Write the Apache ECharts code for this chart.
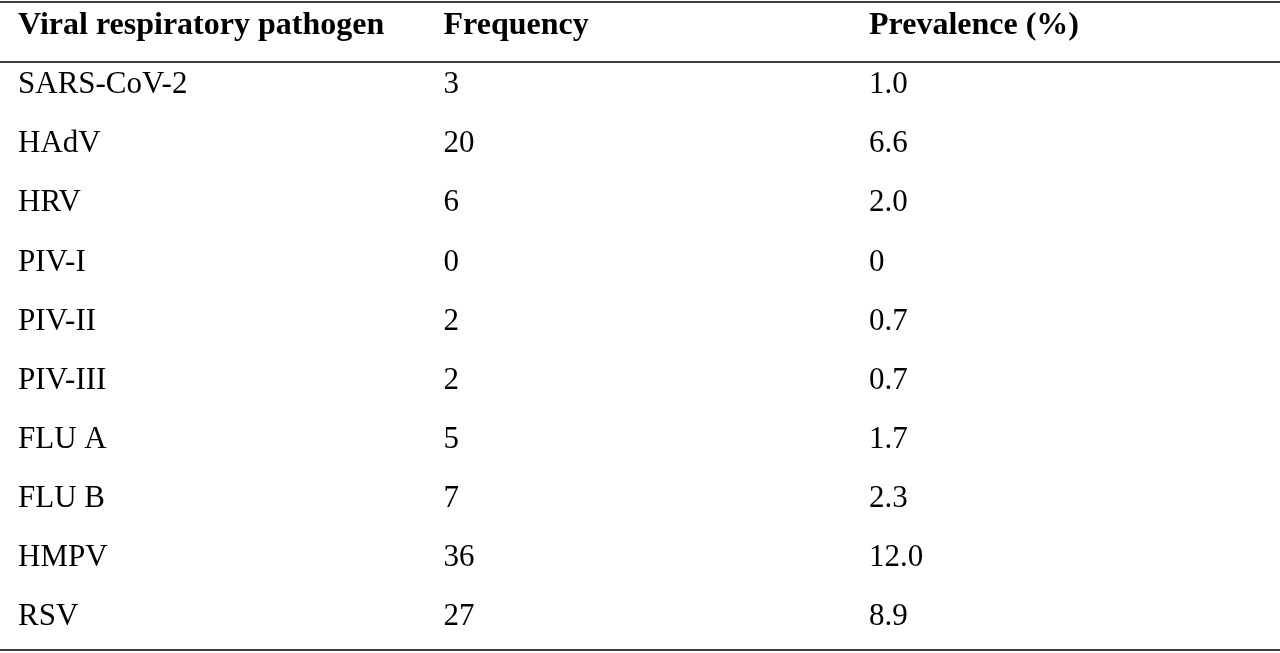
<!DOCTYPE html>
<html><head><meta charset="utf-8">
<script src="https://cdn.jsdelivr.net/npm/echarts@6/dist/echarts.min.js"></script>
<style>html,body{margin:0;padding:0;background:#fff}#c{width:1280px;height:653px}</style>
</head><body><div id="c"></div>
<script>
const headers = ["Viral respiratory pathogen", "Frequency", "Prevalence (%)"];
const pathogens = ["SARS-CoV-2","HAdV","HRV","PIV-I","PIV-II","PIV-III","FLU A","FLU B","HMPV","RSV"];
const frequency = ["3","20","6","0","2","2","5","7","36","27"];
const prevalence = ["1.0","6.6","2.0","0","0.7","0.7","1.7","2.3","12.0","8.9"];

const rows = ["h"].concat(pathogens.map((p,i)=>"r"+i));
const cols = ["c0","c1","c2"];
const headData = headers.map((t,j)=>({value:[cols[j],"h"],label:{formatter:t}}));
const bodyData = [];
pathogens.forEach((p,i)=>{
  [p,frequency[i],prevalence[i]].forEach((t,j)=>bodyData.push({value:[cols[j],"r"+i],label:{formatter:t}}));
});
const font = "'Liberation Serif','Times New Roman',serif";
const chart = echarts.init(document.getElementById('c'));
chart.setOption({
  animation:false,
  grid:{left:18,right:411,top:26,bottom:36},
  xAxis:{type:'category',data:cols,boundaryGap:false,show:false},
  yAxis:{type:'category',data:rows,inverse:true,boundaryGap:false,show:false},
  series:[
    {type:'scatter',symbolSize:0,itemStyle:{opacity:1},data:headData,
     label:{show:true,position:'inside',align:'left',verticalAlign:'middle',fontFamily:font,fontSize:32,fontWeight:'bold',color:'#000'}},
    {type:'scatter',symbolSize:0,itemStyle:{opacity:1},data:bodyData,
     label:{show:true,position:'inside',align:'left',verticalAlign:'middle',fontFamily:font,fontSize:31,color:'#000'}}
  ],
  graphic:[
    {type:'line',shape:{x1:0,y1:2,x2:1280,y2:2},style:{stroke:'#000',lineWidth:1.5}},
    {type:'line',shape:{x1:0,y1:62,x2:1280,y2:62},style:{stroke:'#000',lineWidth:1.5}},
    {type:'line',shape:{x1:0,y1:650,x2:1280,y2:650},style:{stroke:'#000',lineWidth:1.5}}
  ]
});
</script></body></html>
